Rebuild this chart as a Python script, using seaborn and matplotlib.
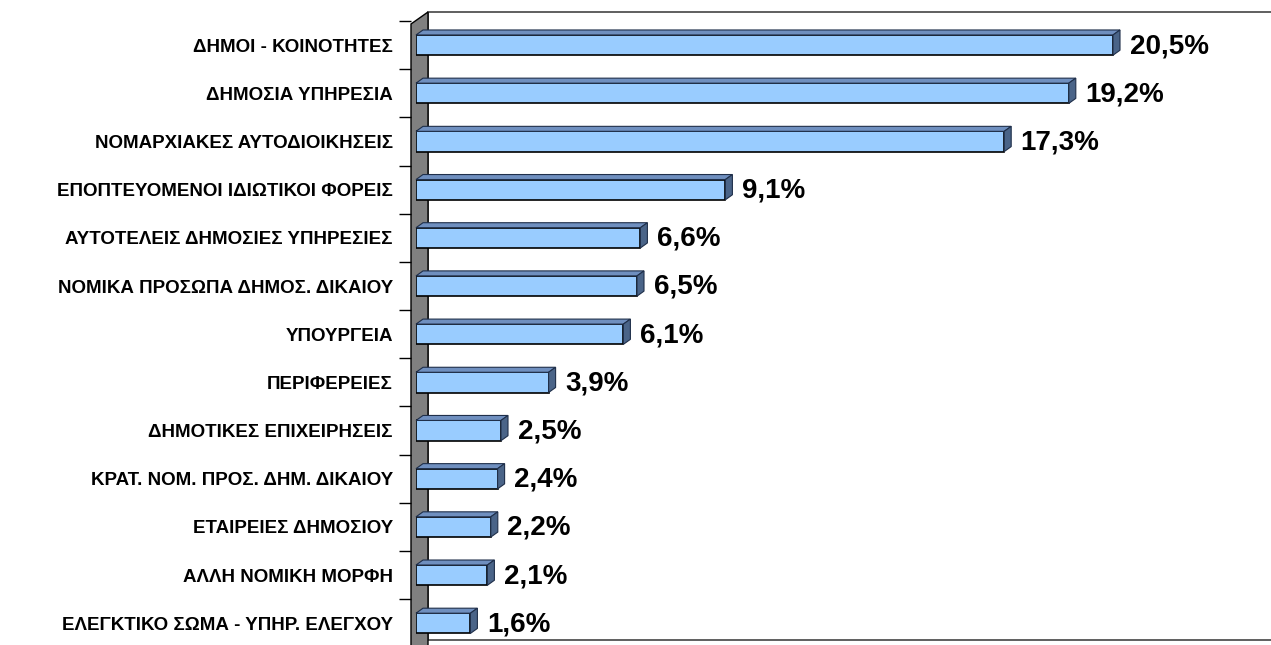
import numpy as np
import matplotlib
matplotlib.use("Agg")
import matplotlib.pyplot as plt
from matplotlib.patches import Polygon
import seaborn as sns

# ── 데이터 ──
categories = [
    "ΔΗΜΟΙ - ΚΟΙΝΟΤΗΤΕΣ",
    "ΔΗΜΟΣΙΑ ΥΠΗΡΕΣΙΑ",
    "ΝΟΜΑΡΧΙΑΚΕΣ ΑΥΤΟΔΙΟΙΚΗΣΕΙΣ",
    "ΕΠΟΠΤΕΥΟΜΕΝΟΙ ΙΔΙΩΤΙΚΟΙ ΦΟΡΕΙΣ",
    "ΑΥΤΟΤΕΛΕΙΣ ΔΗΜΟΣΙΕΣ ΥΠΗΡΕΣΙΕΣ",
    "ΝΟΜΙΚΑ ΠΡΟΣΩΠΑ ΔΗΜΟΣ. ΔΙΚΑΙΟΥ",
    "ΥΠΟΥΡΓΕΙΑ",
    "ΠΕΡΙΦΕΡΕΙΕΣ",
    "ΔΗΜΟΤΙΚΕΣ ΕΠΙΧΕΙΡΗΣΕΙΣ",
    "ΚΡΑΤ. ΝΟΜ. ΠΡΟΣ. ΔΗΜ. ΔΙΚΑΙΟΥ",
    "ΕΤΑΙΡΕΙΕΣ ΔΗΜΟΣΙΟΥ",
    "ΑΛΛΗ ΝΟΜΙΚΗ ΜΟΡΦΗ",
    "ΕΛΕΓΚΤΙΚΟ ΣΩΜΑ - ΥΠΗΡ. ΕΛΕΓΧΟΥ",
]
values = [20.5, 19.2, 17.3, 9.1, 6.6, 6.5, 6.1, 3.9, 2.5, 2.4, 2.2, 2.1, 1.6]

W, H = 1271, 645
PX_X = 34.0            # 1% 당 픽셀
FRONT = "#99CCFF"
TOP = "#6F8FBF"
SIDE = "#4A6488"

sns.set_style("white")
plt.rcParams["font.family"] = ["Liberation Sans", "DejaVu Sans"]
plt.rcParams["text.color"] = "black"
plt.rcParams["ytick.color"] = "black"

fig = plt.figure(figsize=(W / 100, H / 100), dpi=100)
fig.patch.set_facecolor("white")


def fpx(pts):
    """픽셀 좌표(좌상단 기준) -> figure 비율"""
    return [(x / W, 1 - y / H) for x, y in pts]


# 뒷벽 / 옆벽 (3D 느낌)
fig.add_artist(Polygon(fpx([(428, 12), (W + 5, 12), (W + 5, 640), (428, 640)]),
                       closed=True, facecolor="white", edgecolor="#444444",
                       linewidth=1.2, transform=fig.transFigure, zorder=-2))
fig.add_artist(Polygon(fpx([(411, 24), (428, 12), (428, 650), (411, 650)]),
                       closed=True, facecolor="#808080", edgecolor="black",
                       linewidth=1, transform=fig.transFigure, zorder=-1))

ax_left, ax_top = 416, 21
ax = fig.add_axes([ax_left / W, 0, (W - ax_left) / W, (H - ax_top) / H])
ax.set_facecolor("none")

sns.barplot(x=values, y=categories, orient="h", color=FRONT, saturation=1,
            width=0.42, edgecolor="black", linewidth=1.2, ax=ax, zorder=3)

ax.set_xlim(0, (W - ax_left) / PX_X)
ax.set_ylim(12.45, -0.5)
px_y = (H - ax_top) / 12.95
dx, dy = 7 / PX_X, 5 / px_y

# 막대 윗면 / 옆면
for p in ax.patches:
    x0, y0, w, h = p.get_x(), p.get_y(), p.get_width(), p.get_height()
    top = [(x0, y0), (x0 + w, y0), (x0 + w + dx, y0 - dy), (x0 + dx, y0 - dy)]
    side = [(x0 + w, y0), (x0 + w + dx, y0 - dy), (x0 + w + dx, y0 + h - dy), (x0 + w, y0 + h)]
    ax.add_patch(Polygon(top, closed=True, facecolor=TOP, edgecolor="#1F2F4A",
                         linewidth=0.8, zorder=4, clip_on=False))
    ax.add_patch(Polygon(side, closed=True, facecolor=SIDE, edgecolor="#1F2F4A",
                         linewidth=0.8, zorder=4, clip_on=False))

# 수치 레이블
for i, val in enumerate(values):
    ax.text(val + dx + 0.28, i + 0.02, f"{val:.1f}".replace(".", ",") + "%",
            va="center", ha="left", fontsize=20, fontweight="bold",
            color="black", zorder=5)

# 축 (spine 위치를 먼저 바꿔야 tick label 속성이 유지됨)
for s in ["top", "right", "bottom"]:
    ax.spines[s].set_visible(False)
ax.spines["left"].set_position(("outward", 3.6))
ax.spines["left"].set_visible(False)
ax.yaxis.set_ticks_position("left")

ax.set_xlabel("")
ax.set_ylabel("")
ax.set_xticks([])
ax.set_yticks(np.arange(len(categories)))
ax.set_yticklabels(categories, fontsize=13.5, fontweight="bold", color="black")
ax.set_yticks(np.arange(-0.5, len(categories) - 1), minor=True)
ax.tick_params(axis="y", which="major", length=0, pad=13)
ax.tick_params(axis="y", which="minor", length=9, width=1, color="black")

fig.savefig("out.png", dpi=100, facecolor="white")
